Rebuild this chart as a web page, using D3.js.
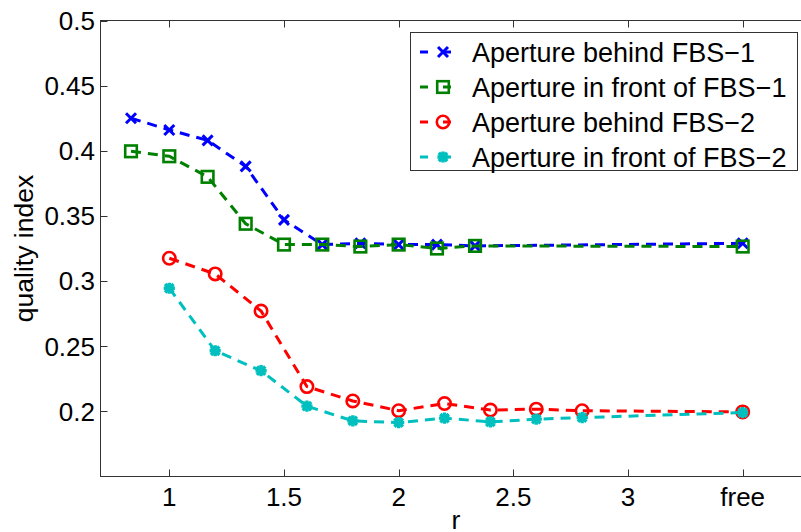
<!DOCTYPE html>
<html lang="en">
<head>
    <meta charset="UTF-8">
    <title>quality index vs r</title>
    <style>
        body { margin: 0; background: #fff; }
        text { font-family: "Liberation Sans", Arial, sans-serif; fill: #000; }
    </style>
    <script src="https://d3js.org/d3.v7.min.js"></script>
</head>
<body>
<script>
// x positions (free is drawn at 3.5)
const rFBS1 = [0.833, 1, 1.167, 1.333, 1.5, 1.667, 1.833, 2, 2.167, 2.333, 3.5];
const rFBS2 = [1, 1.2, 1.4, 1.6, 1.8, 2, 2.2, 2.4, 2.6, 2.8, 3.5];

const behind1 = [0.425, 0.416, 0.408, 0.388, 0.347, 0.328, 0.329, 0.328, 0.328, 0.327, 0.329];
const front1  = [0.3996, 0.3958, 0.380, 0.344, 0.328, 0.328, 0.3265, 0.328, 0.325, 0.327, 0.3265];
const behind2 = [0.3175, 0.3055, 0.277, 0.219, 0.208, 0.2005, 0.206, 0.201, 0.2017, 0.2005, 0.1996];
const front2  = [0.2945, 0.2465, 0.2312, 0.204, 0.1927, 0.1914, 0.1948, 0.1919, 0.194, 0.1952, 0.1991];

const xTicks = [1, 1.5, 2, 2.5, 3, 3.5];
const xTickLabels = ["1", "1.5", "2", "2.5", "3", "free"];
const yTicks = [0.2, 0.25, 0.3, 0.35, 0.4, 0.45, 0.5];

const seriesNames = ["Aperture behind FBS\u22121", "Aperture in front of FBS\u22121",
                     "Aperture behind FBS\u22122", "Aperture in front of FBS\u22122"];
const seriesColors = ["#0000ff", "#008000", "#ff0000", "#00bfbf"];
const seriesMarkers = ["x", "square", "circle", "star"];

const series = [
    {name: seriesNames[0], xs: rFBS1, ys: behind1, color: seriesColors[0], marker: seriesMarkers[0]},
    {name: seriesNames[1], xs: rFBS1, ys: front1,  color: seriesColors[1], marker: seriesMarkers[1]},
    {name: seriesNames[2], xs: rFBS2, ys: behind2, color: seriesColors[2], marker: seriesMarkers[2]},
    {name: seriesNames[3], xs: rFBS2, ys: front2,  color: seriesColors[3], marker: seriesMarkers[3]}
];

const W = 801, H = 532;
const svg = d3.select("body").append("svg").attr("width", W).attr("height", H);

const x = d3.scaleLinear().domain([0.7, 3.8]).range([100.5, 811.5]);
const y = d3.scaleLinear().domain([0.15, 0.5]).range([476.5, 20.5]);

// axes box (right side falls off the picture)
const axisColor = "#333";
svg.append("rect")
    .attr("x", x(0.7)).attr("y", y(0.5))
    .attr("width", x(3.8) - x(0.7)).attr("height", y(0.15) - y(0.5))
    .attr("fill", "none").attr("stroke", axisColor).attr("stroke-width", 1);

// ticks inward, on all sides
const ticks = svg.append("g").attr("stroke", axisColor).attr("stroke-width", 1);
xTicks.forEach(t => {
    ticks.append("line").attr("x1", Math.round(x(t)) + 0.5).attr("x2", Math.round(x(t)) + 0.5)
        .attr("y1", y(0.15)).attr("y2", y(0.15) - 7);
    ticks.append("line").attr("x1", Math.round(x(t)) + 0.5).attr("x2", Math.round(x(t)) + 0.5)
        .attr("y1", y(0.5)).attr("y2", y(0.5) + 7);
});
yTicks.forEach(t => {
    ticks.append("line").attr("x1", x(0.7)).attr("x2", x(0.7) + 7)
        .attr("y1", Math.round(y(t)) + 0.5).attr("y2", Math.round(y(t)) + 0.5);
});

// tick labels
svg.append("g").selectAll("text").data(xTicks).join("text")
    .attr("x", d => x(d)).attr("y", 506)
    .attr("text-anchor", "middle").style("font-size", "26px")
    .text((d, i) => xTickLabels[i]);

svg.append("g").selectAll("text").data(yTicks).join("text")
    .attr("x", 95).attr("y", d => y(d)).attr("dy", "0.36em")
    .attr("text-anchor", "end").style("font-size", "26px")
    .text(d => d3.format("")(d));

// axis titles
svg.append("text").attr("x", (x(0.7) + x(3.8)) / 2).attr("y", 529)
    .attr("text-anchor", "middle").style("font-size", "26.5px").text("r");
svg.append("text").attr("transform", "translate(33," + ((y(0.15) + y(0.5)) / 2) + ") rotate(-90)")
    .attr("text-anchor", "middle").style("font-size", "26.5px").text("quality index");

// marker shapes
function drawMarker(g, type, cx, cy, color) {
    if (type === "x") {
        const s = 5;
        g.append("path").attr("d", `M${cx - s},${cy - s}L${cx + s},${cy + s}M${cx - s},${cy + s}L${cx + s},${cy - s}`)
            .attr("stroke", color).attr("stroke-width", 3).attr("fill", "none");
    } else if (type === "square") {
        const s = 5.8;
        g.append("rect").attr("x", cx - s).attr("y", cy - s).attr("width", 2 * s).attr("height", 2 * s)
            .attr("stroke", color).attr("stroke-width", 2.6).attr("fill", "none");
    } else if (type === "circle") {
        g.append("circle").attr("cx", cx).attr("cy", cy).attr("r", 6.2)
            .attr("stroke", color).attr("stroke-width", 2.6).attr("fill", "none");
    } else {
        const s = 5.6, d = 4.2;
        g.append("path")
            .attr("d", `M${cx - s},${cy}L${cx + s},${cy}M${cx},${cy - s}L${cx},${cy + s}` +
                       `M${cx - d},${cy - d}L${cx + d},${cy + d}M${cx - d},${cy + d}L${cx + d},${cy - d}`)
            .attr("stroke", color).attr("stroke-width", 3.4).attr("fill", "none");
        g.append("circle").attr("cx", cx).attr("cy", cy).attr("r", 3.2).attr("fill", color);
    }
}

const line = d3.line().x(d => x(d[0])).y(d => y(d[1]));
const dash = "10,7";

series.forEach(s => {
    const g = svg.append("g");
    const pts = s.xs.map((v, i) => [v, s.ys[i]]);
    g.append("path").datum(pts).attr("d", line)
        .attr("fill", "none").attr("stroke", s.color).attr("stroke-width", 3)
        .attr("stroke-dasharray", dash);
    pts.forEach(p => drawMarker(g, s.marker, x(p[0]), y(p[1]), s.color));
});

// legend
const legend = svg.append("g");
legend.append("rect").attr("x", 410.5).attr("y", 32.5).attr("width", 387).attr("height", 138)
    .attr("fill", "#fff").attr("stroke", axisColor).attr("stroke-width", 1);
series.forEach((s, i) => {
    const ry = 52 + i * 35;
    legend.append("line").attr("x1", 420).attr("x2", 466).attr("y1", ry).attr("y2", ry)
        .attr("stroke", s.color).attr("stroke-width", 3).attr("stroke-dasharray", "8,15");
    drawMarker(legend, s.marker, 443, ry, s.color);
    legend.append("text").attr("x", 472).attr("y", ry).attr("dy", "0.36em")
        .style("font-size", "27px").text(s.name);
});
</script>
</body>
</html>
